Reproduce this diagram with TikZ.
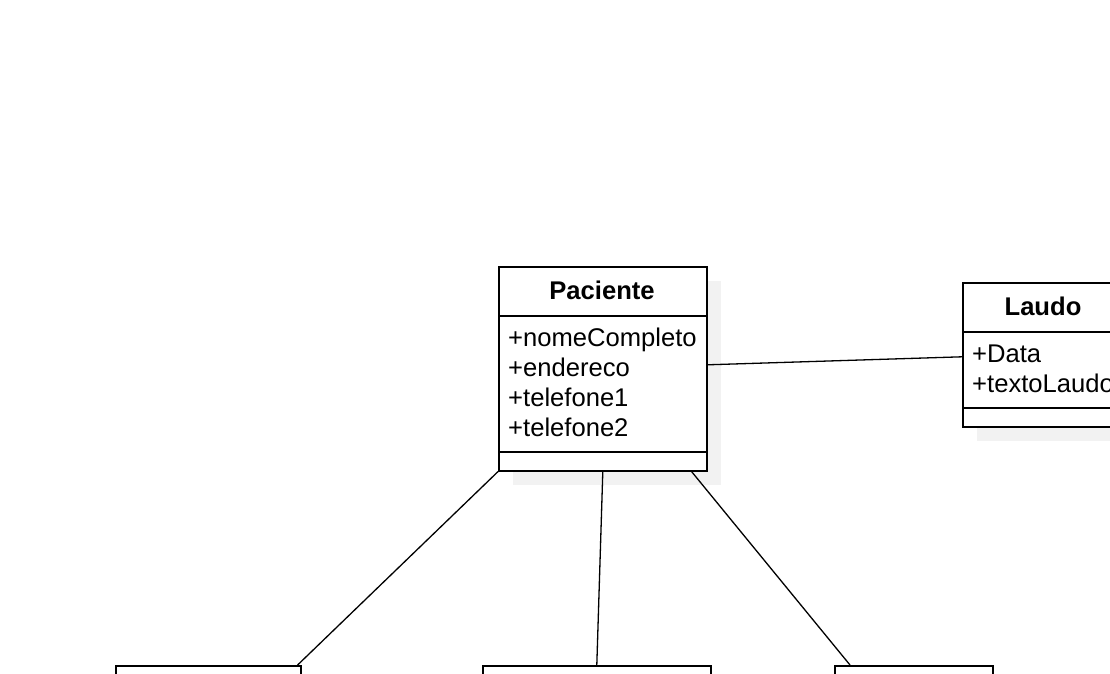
\documentclass[tikz,border=0pt]{standalone}
\usepackage{fontspec}
\setmainfont{Liberation Sans}
\usetikzlibrary{shadows}

\tikzset{
  umlclass/.style={draw, line width=1.6pt, fill=white, anchor=north west, inner sep=0pt,
    drop shadow={opacity=1, fill=black!5, shadow xshift=14pt, shadow yshift=-14pt}},
  classname/.style={anchor=base, inner sep=0pt, font=\fontsize{25.6}{30}\selectfont\bfseries},
  attr/.style={anchor=base west, inner sep=0pt, font=\fontsize{25.6}{30}\selectfont},
  divider/.style={line width=1.6pt},
  assoc/.style={line width=1.3pt}
}

\begin{document}
\begin{tikzpicture}[x=1pt, y=-1pt]

  % Page frame, cut at the edges like the screenshot
  \useasboundingbox (0,0) rectangle (1110,674);
  \clip (0,0) rectangle (1110,674);

  % Paciente class
  \node[umlclass, minimum width=208pt, minimum height=204pt] (pac) at (498,266) {};
  \node[classname] (pacName) at (602,299) {Paciente};
  \draw[divider] ([yshift=-50pt]pac.north west) -- ([yshift=-50pt]pac.north east);
  \draw[divider] ([yshift=-186pt]pac.north west) -- ([yshift=-186pt]pac.north east);
  \foreach \field [count=\i] in {nomeCompleto, endereco, telefone1, telefone2}
    \node[attr] (pacAttr\i) at (508, 316+30*\i) {+\field};

  % Laudo class (runs off the right edge)
  \node[umlclass, minimum width=162pt, minimum height=144pt] (laudo) at (962,282) {};
  \node[classname] (laudoName) at (1043,315) {Laudo};
  \draw[divider] ([yshift=-50pt]laudo.north west) -- ([yshift=-50pt]laudo.north east);
  \draw[divider] ([yshift=-126pt]laudo.north west) -- ([yshift=-126pt]laudo.north east);
  \foreach \field [count=\i] in {Data, textoLaudo}
    \node[attr] (laudoAttr\i) at (972, 332+30*\i) {+\field};

  % Classes at the bottom, only their tops are visible
  \node[umlclass, minimum width=185pt, minimum height=120pt] (clsLeft) at (115,665) {};
  \node[umlclass, minimum width=228pt, minimum height=120pt] (clsMid) at (482,665) {};
  \node[umlclass, minimum width=158pt, minimum height=120pt] (clsRight) at (834,665) {};

  % Associations
  \draw[assoc] ([yshift=4pt]pac.east) -- ([yshift=-2pt]laudo.west);
  \draw[assoc] (pac.south west) -- ([xshift=-4pt]clsLeft.north east);
  \draw[assoc] (pac.south) -- (clsMid.north);
  \draw[assoc] ([xshift=-16pt]pac.south east) -- ([xshift=16pt]clsRight.north west);

\end{tikzpicture}
\end{document}
